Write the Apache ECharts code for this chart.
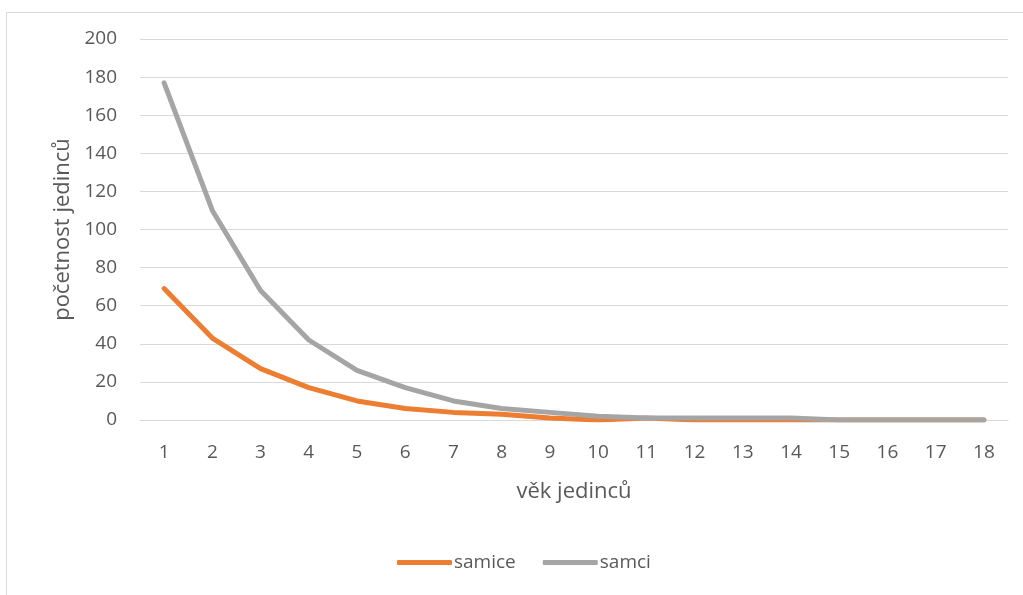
<!DOCTYPE html>
<html>
<head>
<meta charset="utf-8">
<script src="https://cdn.jsdelivr.net/npm/echarts@6/dist/echarts.min.js"></script>
<style>
  html, body { margin: 0; padding: 0; background: #fff; }
  #chart { width: 1023px; height: 595px; }
</style>
</head>
<body>
<div id="chart"></div>
<script>
// Age classes (years)
const ages = ['1','2','3','4','5','6','7','8','9','10','11','12','13','14','15','16','17','18'];
// Number of individuals per age class
const samice = [69, 43, 27, 17, 10, 6, 4, 3, 1, 0, 1, 0, 0, 0, 0, 0, 0, 0];
const samci  = [177, 110, 68, 42, 26, 17, 10, 6, 4, 2, 1, 1, 1, 1, 0, 0, 0, 0];
const seriesNames = ['samice', 'samci'];
const seriesColors = ['#ED7D31', '#A5A5A5'];

const font = '"Open Sans", "Liberation Sans", sans-serif';
const textColor = '#595959';
const gridColor = '#D9D9D9';

const chart = echarts.init(document.getElementById('chart'), null, { renderer: 'canvas' });

chart.setOption({
  animation: false,
  backgroundColor: '#ffffff',
  graphic: [{
    type: 'rect',
    left: 4, top: 10,
    shape: { width: 1040, height: 610 },
    style: { fill: 'none', stroke: gridColor, lineWidth: 1 },
    silent: true
  }],
  grid: { left: 140, right: 15, top: 39, bottom: 175 },
  legend: {
    bottom: 18,
    left: 392,
    itemWidth: 55,
    itemHeight: 5,
    itemGap: 27,
    icon: 'roundRect',
    textStyle: { fontFamily: font, fontSize: 19, color: textColor, padding: [0, 0, 0, -3] },
    data: seriesNames
  },
  xAxis: {
    type: 'category',
    data: ages,
    boundaryGap: true,
    name: 'věk jedinců',
    nameLocation: 'middle',
    nameGap: 61,
    nameTextStyle: { fontFamily: font, fontSize: 22, color: textColor },
    axisLine: { lineStyle: { color: gridColor, width: 1 } },
    axisTick: { show: false },
    axisLabel: { margin: 23, fontFamily: font, fontSize: 19, color: textColor }
  },
  yAxis: {
    type: 'value',
    min: 0, max: 200, interval: 20,
    name: 'početnost jedinců',
    nameLocation: 'middle',
    nameGap: 66,
    nameTextStyle: { fontFamily: font, fontSize: 22, color: textColor },
    axisLine: { show: false },
    axisTick: { show: false },
    axisLabel: { margin: 23, fontFamily: font, fontSize: 19, color: textColor },
    splitLine: { lineStyle: { color: gridColor, width: 1 } }
  },
  series: [
    {
      name: seriesNames[0], type: 'line', data: samice,
      symbol: 'none', smooth: false,
      itemStyle: { color: seriesColors[0] },
      lineStyle: { color: seriesColors[0], width: 5, cap: 'round', join: 'round' }
    },
    {
      name: seriesNames[1], type: 'line', data: samci,
      symbol: 'none', smooth: false,
      itemStyle: { color: seriesColors[1] },
      lineStyle: { color: seriesColors[1], width: 5, cap: 'round', join: 'round' }
    }
  ]
});
</script>
</body>
</html>
